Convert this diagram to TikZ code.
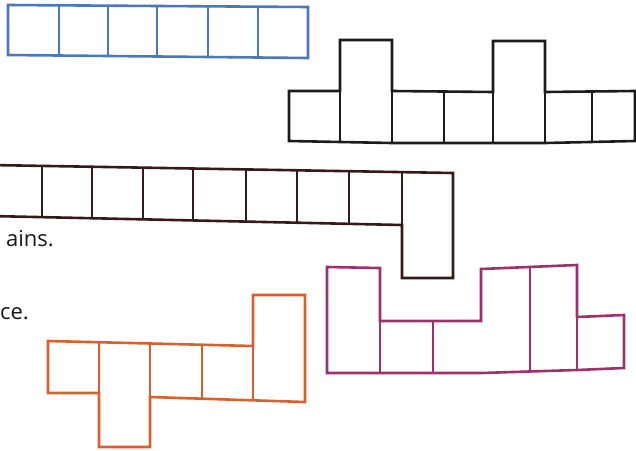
\documentclass[tikz,border=0pt]{standalone}
\usepackage{fontspec}
\setmainfont{Open Sans}
\definecolor{cblue}{HTML}{4A78B8}
\definecolor{cblack}{HTML}{1C1C1C}
\definecolor{cbrown}{HTML}{361A1A}
\definecolor{cmag}{HTML}{A0306A}
\definecolor{corange}{HTML}{D9602C}
\tikzset{
  net/.style={line width=2.6pt, line join=miter},
  lbl/.style={inner sep=0pt, anchor=base east, font=\fontsize{22}{26}\selectfont, text=black!90}
}
\begin{document}
\begin{tikzpicture}[x=1pt,y=-1pt]
\useasboundingbox (0,0) rectangle (636,450);
\clip (0,0) rectangle (636,450);
% blue strip
\draw[net,cblue] (8,5) -- (308,7) -- (308,58) -- (8,55) -- cycle;
\foreach \x/\t/\b in {59/5.3/55.5,108/5.7/56,157/6/56.5,208/6.3/57,258/6.7/57.5}
  \draw[net,cblue] (\x,\t) -- (\x,\b);
% black net
\draw[net,cblack] (289,91) -- (340,91) -- (340,40) -- (392,40) -- (392,91) -- (493,92) -- (493,41) -- (545,41) -- (545,92) -- (635,91) -- (635,141) -- (545,143) -- (392,143) -- (289,141) -- cycle;
\foreach \x/\t in {444/91.5, 592/91.5}
  \draw[net,cblack] (\x,\t) -- (\x,143);
\draw[net,cblack] (340,91) -- (340,142);
\draw[net,cblack] (392,91) -- (392,143);
\draw[net,cblack] (493,92) -- (493,143);
\draw[net,cblack] (545,92) -- (545,143);
% brown strip
\draw[net,cbrown] (-10,165) -- (453,173) -- (453,278) -- (402,278) -- (402,225) -- (-10,216);
\foreach \x in {42,92,143,193,246,297,349,402}
  \draw[net,cbrown] (\x,{165+8*\x/453}) -- (\x,{216+9*\x/402});
% magenta net
\draw[net,cmag] (327,267) -- (380,268) -- (380,321) -- (481,321) -- (481,269) -- (577,265) -- (577,317) -- (624,315) -- (624,368) -- (577,370) -- (481,373) -- (327,373) -- cycle;
\draw[net,cmag] (433,321) -- (433,373);
\draw[net,cmag] (530,267) -- (530,372);
\draw[net,cmag] (577,317) -- (577,370);
\draw[net,cmag] (380,321) -- (380,373);
% orange net
\draw[net,corange] (48,341) -- (253,346) -- (253,295) -- (305,295) -- (305,402) -- (150,397) -- (150,447) -- (99,447) -- (99,393) -- (48,393) -- cycle;
\draw[net,corange] (99,342) -- (99,393);
\draw[net,corange] (150,344) -- (150,397);
\draw[net,corange] (202,345) -- (202,398);
\draw[net,corange] (253,346) -- (253,400);
% text fragments
\node[lbl] (t1) at (54,246) {ains.};
\node[lbl] (t2) at (29,319) {ce.};
\end{tikzpicture}
\end{document}
